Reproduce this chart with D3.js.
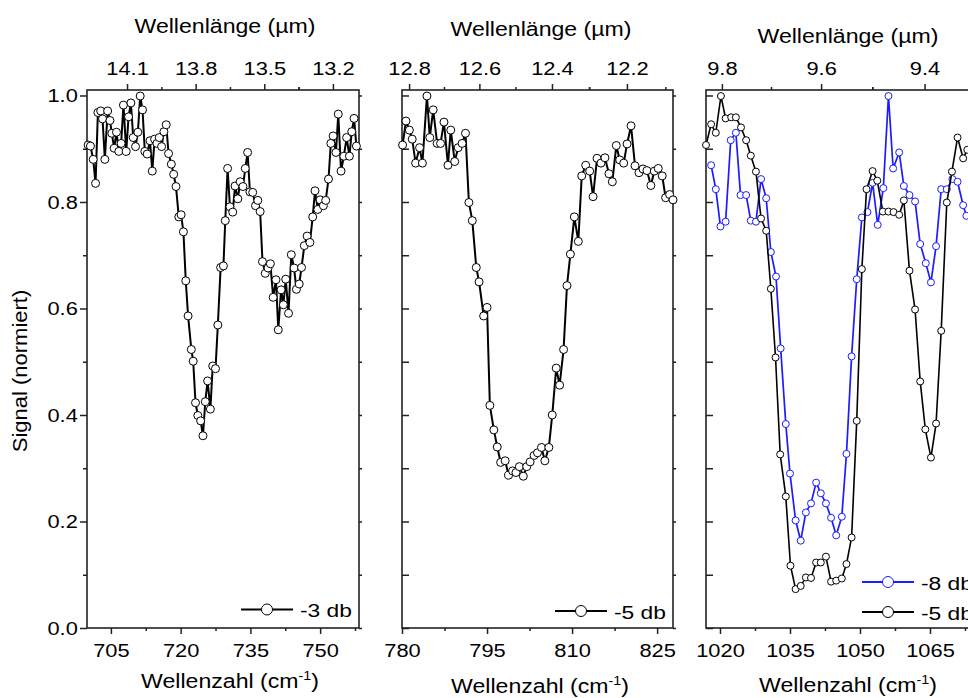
<!DOCTYPE html>
<html>
<head>
<meta charset="utf-8">
<script src="https://cdn.jsdelivr.net/npm/d3@7/dist/d3.min.js"></script>
<style>
body { margin: 0; background: #fff; }
svg text { font-family: "Liberation Sans", Arial, sans-serif; fill: #000; }
</style>
</head>
<body>
<svg id="chart" width="968" height="698"></svg>
<script>

// [wavenumber (cm-1), signal (normalised)]
var m3db = [[700.1,.907],[700.6,.905],[701.2,.880],[701.7,.835],[702.2,.968],[702.8,.971],[703.2,.956],[703.7,.880],[704.3,.971],[704.8,.953],
  [705.2,.929],[705.7,.901],[706.2,.931],[706.7,.895],[707.2,.910],[707.7,.982],[708.3,.895],[708.8,.960],[709.3,.986],[709.8,.921],
  [710.3,.904],[710.8,.931],[711.3,.999],[711.8,.973],[712.3,.895],[712.8,.890],[713.4,.915],[713.9,.858],[714.4,.918],[714.9,.910],
  [715.4,.921],[715.9,.904],[716.4,.932],[716.9,.945],[717.4,.891],[718.0,.871],[718.5,.852],[719.0,.829],[719.6,.772],[720.1,.776],
  [720.6,.744],[721.1,.652],[721.6,.586],[722.3,.523],[722.7,.501],[723.2,.423],[723.7,.399],[724.3,.389],[724.8,.361],[725.3,.425],
  [725.8,.464],[726.4,.411],[726.9,.492],[727.5,.487],[728.0,.569],[728.6,.677],[729.2,.680],[729.6,.765],[730.1,.863],[730.6,.791],
  [731.2,.781],[731.7,.830],[732.3,.806],[732.8,.838],[733.4,.829],[733.9,.863],[734.4,.893],[734.9,.819],[735.5,.818],[736.1,.793],
  [736.6,.803],[737.1,.782],[737.6,.688],[738.2,.666],[738.8,.676],[739.3,.684],[739.9,.621],[740.5,.654],[741.0,.560],[741.6,.635],
  [742.1,.607],[742.6,.655],[743.2,.591],[743.8,.701],[744.4,.676],[744.9,.636],[745.5,.646],[746.0,.677],[746.6,.718],[747.2,.736],
  [747.8,.724],[748.4,.772],[748.9,.821],[749.5,.786],[750.0,.804],[750.7,.793],[751.2,.803],[751.8,.843],[752.3,.910],[752.8,.924],
  [753.4,.893],[753.9,.965],[754.5,.858],[755.1,.886],[755.7,.921],[756.3,.886],[756.8,.932],[757.3,.957],[757.8,.905]]

var m5db_a = [[780.1,.907],[780.7,.952],[781.3,.935],[781.8,.918],[782.4,.873],[783.1,.902],[783.6,.873],[784.4,.999],[784.9,.921],[785.5,.973],
  [786.2,.910],[786.8,.910],[787.4,.950],[788.1,.869],[788.6,.935],[789.3,.876],[789.9,.902],[790.6,.910],[791.2,.929],[791.8,.799],
  [792.4,.765],[793.1,.677],[793.6,.650],[794.4,.586],[795.0,.602],[795.5,.418],[796.2,.372],[796.8,.340],[797.4,.311],[798.2,.314],
  [798.8,.287],[799.5,.295],[800.1,.292],[800.7,.303],[801.4,.285],[802.0,.303],[802.6,.312],[803.3,.324],[803.9,.329],[804.6,.339],
  [805.2,.314],[805.9,.339],[806.5,.400],[807.2,.488],[807.8,.456],[808.5,.523],[809.1,.643],[809.7,.702],[810.4,.772],[811.1,.726],
  [811.7,.849],[812.4,.869],[813.1,.858],[813.7,.810],[814.4,.882],[815.1,.873],[815.8,.883],[816.5,.853],[817.1,.838],[817.8,.906],
  [818.4,.879],[819.1,.873],[819.7,.909],[820.4,.943],[821.1,.868],[821.8,.855],[822.5,.862],[823.2,.859],[823.9,.831],[824.5,.858],
  [825.2,.863],[825.9,.849],[826.5,.808],[827.2,.814],[827.8,.804]]

var m8db = [[1018.1,.869],[1019.1,.824],[1020.1,.754],[1021.2,.763],[1022.3,.916],[1023.4,.930],[1024.4,.813],[1025.6,.813],[1026.6,.765],[1027.7,.763],
  [1028.8,.843],[1029.9,.807],[1030.9,.706],[1032.0,.660],[1033.0,.525],[1034.1,.383],[1035.0,.290],[1036.2,.202],[1037.3,.164],[1038.4,.217],
  [1039.5,.234],[1040.6,.273],[1041.6,.253],[1042.7,.234],[1043.8,.207],[1044.9,.174],[1046.1,.209],[1047.1,.327],[1048.2,.510],[1049.3,.655],
  [1050.4,.771],[1051.6,.781],[1052.7,.836],[1053.8,.757],[1055.0,.826],[1056.1,.999],[1057.1,.863],[1058.4,.893],[1059.4,.830],[1060.6,.813],
  [1061.8,.801],[1062.9,.721],[1064.1,.685],[1065.2,.649],[1066.3,.717],[1067.4,.824],[1068.6,.824],[1069.8,.843],[1070.9,.838],[1072.1,.794],
  [1072.8,.774]]

var m5db_b = [[1017.0,.907],[1018.1,.946],[1019.1,.930],[1020.2,.999],[1021.2,.957],[1022.4,.959],[1023.4,.959],[1024.5,.940],[1025.6,.916],[1026.6,.887],
  [1027.7,.857],[1028.8,.769],[1029.9,.746],[1030.9,.637],[1031.9,.508],[1032.9,.326],[1034.1,.247],[1035.1,.117],[1036.2,.073],[1037.3,.079],
  [1038.4,.095],[1039.5,.094],[1040.6,.123],[1041.6,.123],[1042.7,.134],[1043.8,.087],[1044.9,.089],[1046.1,.093],[1047.1,.120],[1048.2,.170],
  [1049.3,.389],[1050.4,.674],[1051.4,.824],[1052.7,.858],[1053.7,.840],[1054.9,.782],[1056.1,.782],[1057.2,.781],[1058.4,.776],[1059.4,.803],
  [1060.6,.671],[1061.8,.598],[1062.9,.463],[1064.0,.373],[1065.2,.320],[1066.3,.384],[1067.4,.558],[1068.6,.799],[1069.7,.857],[1070.9,.921],
  [1072.1,.882],[1073.0,.898]]

var yTicks = [0, 0.2, 0.4, 0.6, 0.8, 1.0]
var yMinor = [0.1, 0.3, 0.5, 0.7, 0.9]
var xTicks1 = [705, 720, 735, 750]
var xTicks2 = [780, 795, 810, 825]
var xTicks3 = [1020, 1035, 1050, 1065]
var wlTicks1 = [14.1, 13.8, 13.5, 13.2]
var wlTicks2 = [12.8, 12.6, 12.4, 12.2]
var wlTicks3 = [9.8, 9.6, 9.4]

var svg = d3.select("#chart")
var axis_color = "#222"
var blue = "#1c1cff"
var y = d3.scaleLinear().domain([0, 1.0103]).range([628, 90])

// wavelength (um) -> pixel through the wavenumber scale
function recip(xs){
  var s = function(l){ return xs(10000 / l) }
  s.copy = function(){ return recip(xs.copy()) }
  s.range = function(){ return xs.range() }
  s.domain = function(){ return xs.domain().map(function(v){ return 10000 / v }) }
  return s
}

function style_axis(g, sx){
  g.select(".domain").remove()
  g.selectAll(".tick line").attr("stroke", axis_color).attr("stroke-width", 1.5)
  g.selectAll(".tick text").attr("font-size", 19).attr("transform", "scale(" + sx + ",1)")
}

function add_text(x, yy, str, size, sx, anchor){
  return svg.append("text")
    .attr("transform", "translate(" + x + "," + yy + ") scale(" + sx + ",1)")
    .attr("font-size", size)
    .attr("text-anchor", anchor || "middle")
    .text(str)
}

function minor_of(ticks, step, dom){
  var lo = Math.min(dom[0], dom[1]), hi = Math.max(dom[0], dom[1])
  var out = ticks.map(function(t){ return t - step / 2 })
  out.push(ticks[ticks.length - 1] + step / 2)
  return out.filter(function(t){ return t >= lo && t <= hi })
}

var panels = [
  {left: 87, right: 359, xDomain: [699.86, 758.36], xTicks: xTicks1, xStep: 15,
   wlTicks: wlTicks1, wlStep: 0.3, wlLinear: [14.275, 13.086], leftOut: true, rightTicks: true,
   topTitle: [225, 33], bottomTitle: [230, 688],
   series: [{data: m3db, color: "#000", lw: 2, r: 4, label: "-3 db", ly: 609.5}], legendX: 241},
  {left: 402, right: 673, xDomain: [780, 827.8], xTicks: xTicks2, xStep: 15,
   wlTicks: wlTicks2, wlStep: 0.2, leftOut: false, rightTicks: true,
   topTitle: [541, 36], bottomTitle: [540, 693],
   series: [{data: m5db_a, color: "#000", lw: 2, r: 4, label: "-5 db", ly: 611}], legendX: 555},
  {left: 706, right: 1000, xDomain: [1017, 1080], xTicks: xTicks3, xStep: 15,
   wlTicks: wlTicks3, wlStep: 0.2, leftOut: false, rightTicks: false,
   topTitle: [848, 43], bottomTitle: [848, 692],
   series: [{data: m8db, color: blue, lw: 1.7, r: 3.5, label: "-8 db", ly: 582},
            {data: m5db_b, color: "#000", lw: 1.6, r: 3.5, label: "-5 db", ly: 612}], legendX: 862}
]

function draw_panel(p){
  var x = d3.scaleLinear().domain(p.xDomain).range([p.left, p.right])
  var top = p.wlLinear ? d3.scaleLinear().domain(p.wlLinear).range([p.left, p.right]) : recip(x)
  var wlDom = p.wlLinear ? p.wlLinear : [10000 / p.xDomain[0], 10000 / p.xDomain[1]]

  // bottom axis
  svg.append("g").attr("transform", "translate(0,628)")
    .call(d3.axisBottom(x).tickValues(minor_of(p.xTicks, p.xStep, p.xDomain)).tickSize(3).tickFormat(""))
    .call(style_axis, 1)
  svg.append("g").attr("transform", "translate(0,628)")
    .call(d3.axisBottom(x).tickValues(p.xTicks).tickSize(6).tickPadding(9.5).tickFormat(d3.format("d")))
    .call(style_axis, 1.15)

  // top axis (wavelength)
  svg.append("g").attr("transform", "translate(0,90)")
    .call(d3.axisTop(top).tickValues(minor_of(p.wlTicks, p.wlStep, wlDom)).tickSize(3).tickFormat(""))
    .call(style_axis, 1)
  svg.append("g").attr("transform", "translate(0,90)")
    .call(d3.axisTop(top).tickValues(p.wlTicks).tickSize(6).tickPadding(9).tickFormat(d3.format(".1f")))
    .call(style_axis, 1.15)

  // left axis
  if (p.leftOut) {
    svg.append("g").attr("transform", "translate(" + p.left + ",0)")
      .call(d3.axisLeft(y).tickValues(yMinor).tickSize(4).tickFormat(""))
      .call(style_axis, 1)
    svg.append("g").attr("transform", "translate(" + p.left + ",0)")
      .call(d3.axisLeft(y).tickValues(yTicks).tickSize(7).tickPadding(1).tickFormat(d3.format(".1f")))
      .call(style_axis, 1.15)
  } else {
    svg.append("g").attr("transform", "translate(" + p.left + ",0)")
      .call(d3.axisRight(y).tickValues(yTicks.concat(yMinor)).tickSize(7).tickFormat(""))
      .call(style_axis, 1)
  }
  if (p.rightTicks) {
    svg.append("g").attr("transform", "translate(" + p.right + ",0)")
      .call(d3.axisRight(y).tickValues(yTicks.concat(yMinor)).tickSize(3).tickFormat(""))
      .call(style_axis, 1)
  }

  // frame
  svg.append("rect")
    .attr("x", p.left).attr("y", 90)
    .attr("width", p.right - p.left).attr("height", 538)
    .attr("fill", "none").attr("stroke", axis_color).attr("stroke-width", 1.6)

  // data
  var line = d3.line().x(function(d){ return x(d[0]) }).y(function(d){ return y(d[1]) })
  p.series.forEach(function(s){
    var g = svg.append("g")
    g.append("path").datum(s.data)
      .attr("d", line).attr("fill", "none")
      .attr("stroke", s.color).attr("stroke-width", s.lw).attr("stroke-linejoin", "round")
    g.selectAll("circle").data(s.data).enter().append("circle")
      .attr("cx", function(d){ return x(d[0]) })
      .attr("cy", function(d){ return y(d[1]) })
      .attr("r", s.r)
      .attr("fill", "#fff").attr("stroke", s.color).attr("stroke-width", 1)
  })

  // legend
  p.series.forEach(function(s){
    svg.append("line")
      .attr("x1", p.legendX).attr("x2", p.legendX + 52)
      .attr("y1", s.ly).attr("y2", s.ly)
      .attr("stroke", s.color).attr("stroke-width", 2)
    svg.append("circle")
      .attr("cx", p.legendX + 26).attr("cy", s.ly).attr("r", 5.5)
      .attr("fill", "#fff").attr("stroke", s.color).attr("stroke-width", 1)
    add_text(p.legendX + 59, s.ly + 7.5, s.label, 19, 1.2, "start")
  })

  // axis titles
  add_text(p.topTitle[0], p.topTitle[1], "Wellenlänge (µm)", 21, 1.1)
  var t = add_text(p.bottomTitle[0], p.bottomTitle[1], "Wellenzahl (cm", 21, 1.1)
  t.append("tspan").attr("font-size", 13).attr("dy", -8).text("-1")
  t.append("tspan").attr("dy", 8).text(")")
}

panels.forEach(draw_panel)

svg.append("text")
  .attr("transform", "translate(27,371) rotate(-90) scale(1.1,1)")
  .attr("font-size", 20)
  .attr("text-anchor", "middle")
  .text("Signal (normiert)")

</script>
</body>
</html>
